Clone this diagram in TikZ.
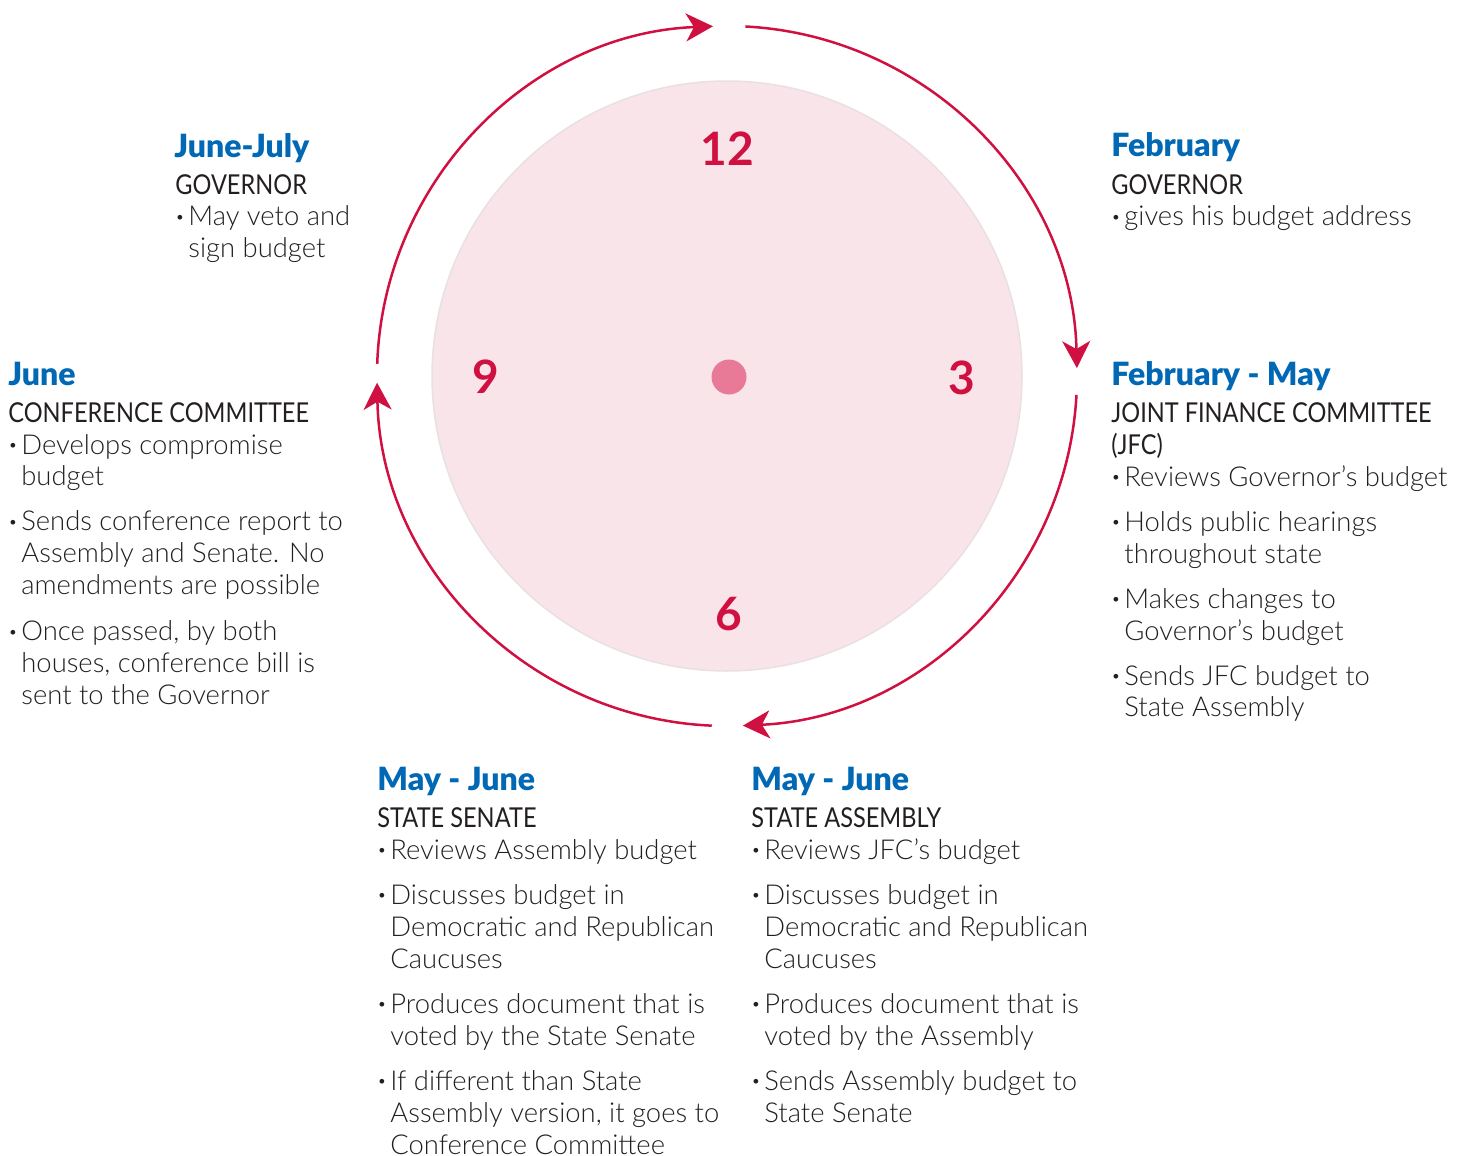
\documentclass[tikz,border=0pt]{standalone}
\usepackage{fontspec}
\setmainfont{Lato}
\newfontfamily\lightf{Lato Light}
\newfontfamily\blackf{Lato Black}
\newfontfamily\regf{Lato}
\newfontfamily\capsf{Lato}[FakeStretch=0.86]
\usetikzlibrary{arrows.meta,calc}
\definecolor{crim}{RGB}{208,16,64}
\definecolor{hblue}{RGB}{0,104,180}
\definecolor{txt}{RGB}{35,31,32}
\definecolor{diskfill}{RGB}{249,228,233}
\definecolor{diskline}{RGB}{232,224,227}
\definecolor{dotc}{RGB}{232,122,151}
\newcommand\bu{\makebox[6.5pt][l]{\raisebox{0.12em}{\fontsize{8}{8}\selectfont\char"2022}}}
\newcommand\ind{\hspace*{6.5pt}}
\newcommand\caps[1]{{\capsf #1}}
\newcommand\blk[1]{\begin{tabular}[t]{@{}l@{}}#1\end{tabular}}
\tikzset{
  cyc/.style={draw=crim, line width=1.25pt, -{Stealth[length=13.5pt,width=14pt,inset=4pt]}},
  head/.style={anchor=base west, inner sep=0pt, text=hblue, font=\blackf\fontsize{16}{16}\selectfont},
  body/.style={anchor=base west, inner sep=0pt, text=txt, font=\lightf\fontsize{13.7}{16}\selectfont},
  num/.style={anchor=base, inner sep=0pt, text=crim, font=\regf\bfseries\fontsize{23}{23}\selectfont},
}
\begin{document}
\begin{tikzpicture}[x=0.5pt,y=-0.5pt]
\useasboundingbox (0,0) rectangle (1463,1156);
\coordinate (C) at (727,376);
% inner disk
\node[circle, minimum size=295pt, inner sep=0pt, fill=diskfill, draw=diskline, line width=0.75pt] (disk) at (C) {};
% cycle arcs
\draw[cyc] ($(C)+(-178:350)$) arc[start angle=-178, end angle=-92.3, radius=350];
\draw[cyc] ($(C)+(-87:350)$) arc[start angle=-87, end angle=-1.3, radius=350];
\draw[cyc] ($(C)+(3.1:350)$) arc[start angle=3.1, end angle=87.4, radius=350];
\draw[cyc] ($(C)+(92.5:350)$) arc[start angle=92.5, end angle=178.9, radius=350];
% clock numbers
\node[num] (n12) at (727,166) {12};
\node[num] (n9) at (486,393) {9};
\node[num] (n3) at (962,394) {3};
\node[num] (n6) at (729,630) {6};
\node[circle, fill=dotc, minimum size=17.5pt, inner sep=0pt] (dot) at (729,377) {};
% June-July
\node[head] (h1) at (174,158) {June-July};
\node[body] (b1) at (175,194) {\blk{\caps{GOVERNOR}\\
\bu May veto and\\
\ind sign budget}};
% February
\node[head] (h2) at (1111,157) {February};
\node[body] (b2) at (1111,194) {\blk{\caps{GOVERNOR}\\
\bu gives his budget address}};
% February - May
\node[head] (h3) at (1111,385) {February - May};
\node[body] (b3) at (1111,422) {\blk{\caps{JOINT FINANCE COMMITTEE}\\
\caps{(JFC)}\\
\bu Reviews Governor’s budget\\[6.5pt]
\bu Holds public hearings\\
\ind throughout state\\[6.5pt]
\bu Makes changes to\\
\ind Governor’s budget\\[6.5pt]
\bu Sends JFC budget to\\
\ind State Assembly}};
% June
\node[head] (h4) at (8,385) {June};
\node[body] (b4) at (8,422) {\blk{\caps{CONFERENCE COMMITTEE}\\
\bu Develops compromise\\
\ind budget\\[6.5pt]
\bu Sends conference report to\\
\ind Assembly and Senate. No\\
\ind amendments are possible\\[7pt]
\bu Once passed, by both\\
\ind houses, conference bill is\\
\ind sent to the Governor}};
% May - June (Senate)
\node[head] (h5) at (377,790) {May - June};
\node[body] (b5) at (377,827) {\blk{\caps{STATE SENATE}\\
\bu Reviews Assembly budget\\[6.5pt]
\bu Discusses budget in\\
\ind Democratic and Republican\\
\ind Caucuses\\[6.5pt]
\bu Produces document that is\\
\ind voted by the State Senate\\[6.5pt]
\bu If different than State\\
\ind Assembly version, it goes to\\
\ind Conference Committee}};
% May - June (Assembly)
\node[head] (h6) at (751,790) {May - June};
\node[body] (b6) at (751,827) {\blk{\caps{STATE ASSEMBLY}\\
\bu Reviews JFC’s budget\\[6.5pt]
\bu Discusses budget in\\
\ind Democratic and Republican\\
\ind Caucuses\\[6.5pt]
\bu Produces document that is\\
\ind voted by the Assembly\\[6.5pt]
\bu Sends Assembly budget to\\
\ind State Senate}};
\end{tikzpicture}
\end{document}
